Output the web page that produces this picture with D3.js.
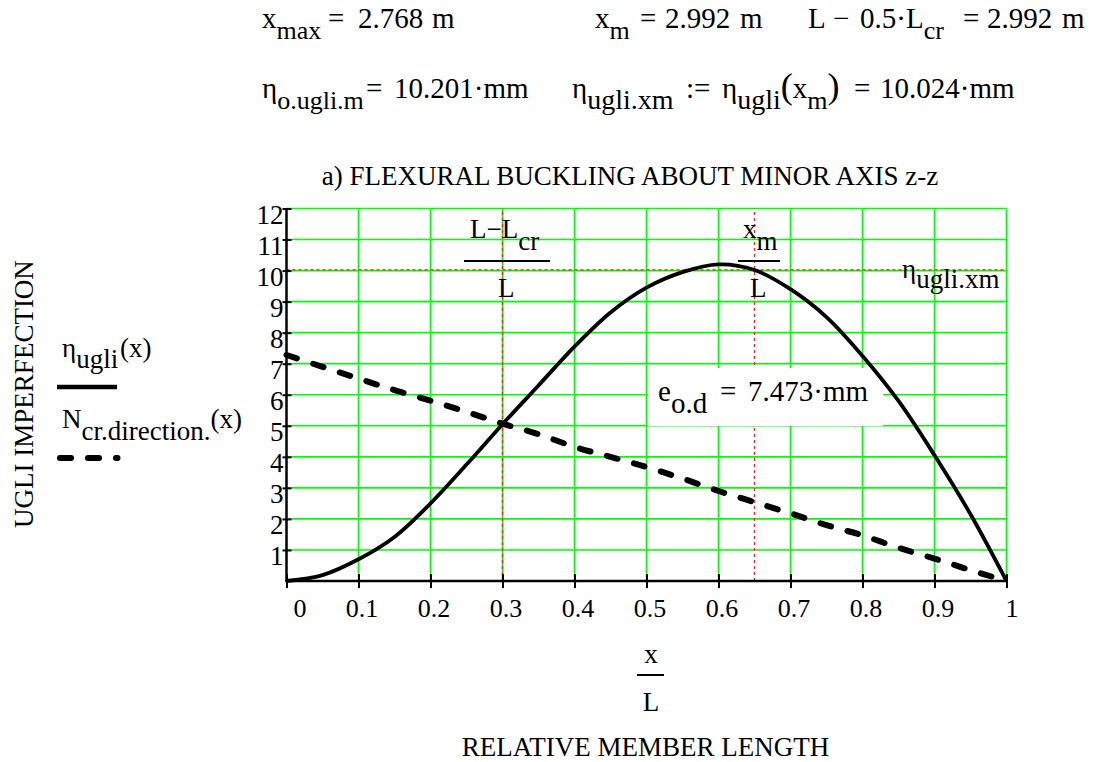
<!DOCTYPE html>
<html><head><meta charset="utf-8">
<script src="https://cdn.jsdelivr.net/npm/d3@7"></script>
<style>
body{margin:0;background:#fff}
svg{display:block;background:#fff}
</style>
</head><body>
<svg id="c" width="1101" height="762"></svg>
<script>
// ---- data ----
const xRel = [0,0.05,0.1,0.15,0.2,0.25,0.3,0.35,0.4,0.45,0.5,0.55,0.6,0.65,0.7,0.75,0.8,0.85,0.9,0.95,1];
const etaUgli = [0,0.19,0.7,1.42,2.5,3.75,5.05,6.3,7.55,8.65,9.45,9.95,10.2,10.02,9.4,8.5,7.25,5.8,4.05,2.15,0];
const nCrDirection = [7.28,6.9,6.52,6.15,5.81,5.45,5.07,4.73,4.32,4.0,3.67,3.3,2.9,2.54,2.18,1.8,1.47,1.07,0.72,0.35,0];
const xTicks = [0,0.1,0.2,0.3,0.4,0.5,0.6,0.7,0.8,0.9,1];
const xTickLabels = ["0","0.1","0.2","0.3","0.4","0.5","0.6","0.7","0.8","0.9","1"];
const yTicks = [1,2,3,4,5,6,7,8,9,10,11,12];
const yTickLabels = ["1","2","3","4","5","6","7","8","9","10","11","12"];
const markerX = [0.3, 0.65];   // (L-Lcr)/L , xm/L
const markerY = [10.024];      // eta_ugli.xm [mm]
const xDomain = [0,1], yDomain = [0,12];

const FONT = "'Liberation Serif','Times New Roman',serif";
const svg = d3.select("#c").style("font-family", FONT);
const x = d3.scaleLinear().domain(xDomain).range([286.5,1006.5]);
const y = d3.scaleLinear().domain(yDomain).range([581,208.5]);

// helper: math-like text with subscripts
function mt(x0, y0, size, runs, anchor){
  const t = svg.append("text").attr("x",x0).attr("y",y0)
    .style("font-family",FONT).style("font-size",size+"px").attr("fill","#000");
  if(anchor) t.attr("text-anchor",anchor);
  runs.forEach(r=>{
    const ts = t.append("tspan").text(r.t).attr("y", y0 + (r.s ? (r.off||11) : 0));
    if(r.x!==undefined) ts.attr("x", r.x);
    if(r.fs) ts.style("font-size", r.fs+"px");
  });
  return t;
}
function txt(x0, y0, size, s, anchor){
  return svg.append("text").attr("x",x0).attr("y",y0).attr("text-anchor",anchor||"start")
    .style("font-family",FONT).style("font-size",size+"px").attr("fill","#000").text(s);
}

// ---- top expressions ----
const SUB = 26;
mt(262, 28, 29, [{t:"x"},{t:"max",s:1,fs:SUB},{t:"=",x:328},{t:"2.768",x:358},{t:"m",x:432}]);
mt(595, 28, 29, [{t:"x"},{t:"m",s:1,fs:SUB},{t:"=",x:640},{t:"2.992",x:665},{t:"m",x:740}]);
mt(808, 28, 29, [{t:"L"},{t:"−",x:833},{t:"0.5·L",x:860},{t:"cr",s:1,fs:SUB},{t:"=",x:963},{t:"2.992",x:987},{t:"m",x:1062}]);
mt(262, 98, 29, [{t:"η"},{t:"o.ugli.m",s:1,fs:SUB},{t:"=",x:366},{t:"10.201·mm",x:394}]);
mt(572, 98, 29, [{t:"η"},{t:"ugli.xm",s:1,fs:28},{t:":=",x:686},{t:"η",x:722},{t:"ugli",s:1,fs:28},{t:"(",fs:36},{t:"x"},{t:"m",s:1,fs:SUB},{t:")",fs:36},{t:"=",x:854},{t:"10.024·mm",x:880}]);

// title
txt(630, 185, 27, "a) FLEXURAL BUCKLING ABOUT MINOR AXIS z-z", "middle");

// ---- grid ----
const grid = svg.append("g").attr("stroke","#00ff00").attr("stroke-width",1.6);
grid.selectAll("line.v").data(xTicks.filter(d=>d>0)).join("line")
  .attr("x1",d=>x(d)).attr("x2",d=>x(d)).attr("y1",y(yDomain[0])).attr("y2",y(yDomain[1]));
grid.selectAll("line.h").data(yTicks).join("line")
  .attr("x1",x(xDomain[0])).attr("x2",x(xDomain[1])).attr("y1",d=>y(d)).attr("y2",d=>y(d));

// ---- red marker lines ----
const mk = svg.append("g").attr("stroke","#ff2020").attr("stroke-width",1.3).attr("stroke-dasharray","3,3");
mk.selectAll("line.mx").data(markerX).join("line")
  .attr("x1",d=>x(d)).attr("x2",d=>x(d)).attr("y1",y(yDomain[0])).attr("y2",y(yDomain[1]));
mk.selectAll("line.my").data(markerY).join("line").attr("class","my")
  .attr("x1",x(xDomain[0])).attr("x2",x(xDomain[1])).attr("y1",d=>y(d)).attr("y2",d=>y(d));

// marker labels
mt(470, 238, 27, [{t:"L−L"},{t:"cr",s:1,off:12}]);
svg.append("line").attr("x1",464).attr("x2",550).attr("y1",261).attr("y2",261).attr("stroke","#000").attr("stroke-width",2);
txt(498, 297, 27, "L");
mt(743, 238, 27, [{t:"x"},{t:"m",s:1,off:12}]);
svg.append("line").attr("x1",738).attr("x2",780).attr("y1",261).attr("y2",261).attr("stroke","#000").attr("stroke-width",2);
txt(750, 297, 27, "L");
mt(902, 278, 27, [{t:"η"},{t:"ugli.xm",s:1,off:10}]);

// e_o.d region (opaque)
svg.append("rect").attr("x",648).attr("y",368).attr("width",235).attr("height",58).attr("fill","#fff");
mt(658, 401, 29, [{t:"e"},{t:"o.d",s:1,off:12},{t:"=",x:720},{t:"7.473·mm",x:748}]);

// ---- axes ----
const yAxis = d3.axisLeft(y).tickValues(yTicks).tickFormat((d,i)=>yTickLabels[i]).tickSize(4).tickPadding(0);
const gy = svg.append("g").attr("transform",`translate(${x(0)},0)`).call(yAxis).attr("font-family",FONT);
gy.select(".domain").remove();
gy.selectAll(".tick line").attr("x1",5).attr("x2",-4).attr("stroke","#000").attr("stroke-width",2);
gy.selectAll(".tick text").attr("x",-3).attr("dy","15px").style("font-size","27px")
  .style("font-family",FONT).attr("fill","#000");

const xAxis = d3.axisBottom(x).tickValues(xTicks).tickFormat((d,i)=>xTickLabels[i]).tickSize(7).tickPadding(0);
const gx = svg.append("g").attr("transform",`translate(0,${y(0)})`).call(xAxis).attr("font-family",FONT);
gx.select(".domain").remove();
gx.selectAll(".tick line").attr("y1",-7).attr("y2",7).attr("stroke","#000").attr("stroke-width",2);
gx.selectAll(".tick text").attr("y",36).attr("dy",null).attr("dx",d=>d===0?13:(d===1?5:3))
  .style("font-size","26px").style("font-family",FONT).attr("fill","#000");

svg.append("line").attr("x1",x(0)).attr("x2",x(0)).attr("y1",y(yDomain[0])+1).attr("y2",y(yDomain[1])).attr("stroke","#000").attr("stroke-width",2.5);
svg.append("line").attr("x1",x(0)-1).attr("x2",x(xDomain[1])).attr("y1",y(0)).attr("y2",y(0)).attr("stroke","#000").attr("stroke-width",2.5);

// ---- curves ----
const line = d3.line().x((d,i)=>x(xRel[i])).y(d=>y(d)).curve(d3.curveCatmullRom);
svg.append("path").datum(nCrDirection).attr("d",line).attr("fill","none").attr("stroke","#000")
  .attr("stroke-width",6).attr("stroke-linecap","round").attr("stroke-dasharray","11,17");
svg.append("path").datum(etaUgli).attr("d",line).attr("fill","none").attr("stroke","#000")
  .attr("stroke-width",3.8).attr("stroke-linejoin","round");

// ---- legend ----
mt(62, 357, 27, [{t:"η"},{t:"ugli",s:1,off:11},{t:"(x)",x:120}]);
svg.append("line").attr("x1",57).attr("x2",117).attr("y1",387).attr("y2",387).attr("stroke","#000").attr("stroke-width",4.5);
mt(62, 428, 27, [{t:"N"},{t:"cr.direction.",s:1,off:12},{t:"(x)"}]);
svg.append("line").attr("x1",60).attr("x2",117.5).attr("y1",458).attr("y2",458).attr("stroke","#000")
  .attr("stroke-width",6).attr("stroke-linecap","round").attr("stroke-dasharray","11,17");

// ---- axis titles ----
svg.append("text").attr("transform","translate(33,394) rotate(-90)").attr("text-anchor","middle")
  .style("font-family",FONT).style("font-size","27px").attr("fill","#000").text("UGLI IMPERFECTION");
txt(651, 663, 27, "x", "middle");
svg.append("line").attr("x1",637).attr("x2",664).attr("y1",675).attr("y2",675).attr("stroke","#000").attr("stroke-width",2);
txt(651, 711, 27, "L", "middle");
txt(645.5, 756, 27, "RELATIVE MEMBER LENGTH", "middle");
</script>
</body></html>
